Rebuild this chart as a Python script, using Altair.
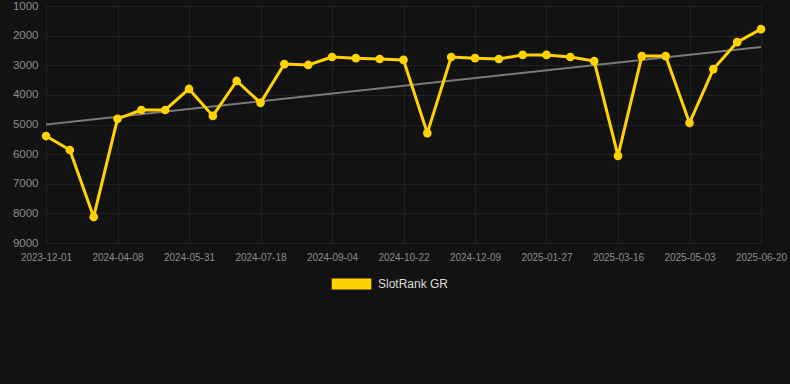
import altair as alt
import pandas as pd

# ---- data ----
ranks = [5390, 5860, 8120, 4810, 4510, 4510, 3800, 4710, 3530, 4270,
         2960, 2990, 2720, 2760, 2790, 2820, 5290, 2720, 2760, 2790,
         2650, 2650, 2720, 2860, 6060, 2690, 2690, 4950, 3130, 2220, 1780]
tick_labels = ["2023-12-01", "2024-04-08", "2024-05-31", "2024-07-18",
               "2024-09-04", "2024-10-22", "2024-12-09", "2025-01-27",
               "2025-03-16", "2025-05-03", "2025-06-20"]
series_name = "SlotRank GR"
y_ticks = [1000, 2000, 3000, 4000, 5000, 6000, 7000, 8000, 9000]

df = pd.DataFrame({
    "idx": list(range(len(ranks))),
    "rank": ranks,
    "series": [series_name] * len(ranks),
})

tick_positions = [i * 3 for i in range(len(tick_labels))]
label_arr = "[" + ",".join("'%s'" % t for t in tick_labels) + "]"

BG = "#121212"
GRID = "#222222"
LABEL = "#8c8c8c"
GOLD = "#FFD200"

x_enc = alt.X("idx:Q",
              scale=alt.Scale(domain=[0, len(ranks) - 1], nice=False, zero=False),
              axis=alt.Axis(values=tick_positions,
                            labelExpr=label_arr + "[round(datum.value/3)]",
                            title=None, grid=True, gridColor=GRID,
                            domain=False, ticks=False, labelOverlap=False,
                            labelFlush=False,
                            labelColor=LABEL, labelFontSize=10, labelPadding=9,
                            labelFont="Liberation Sans"))
y_enc = alt.Y("rank:Q",
              scale=alt.Scale(domain=[1000, 9000], reverse=True, nice=False, zero=False),
              axis=alt.Axis(values=y_ticks, title=None, grid=True, gridColor=GRID,
                            domain=False, ticks=False, labelColor=LABEL,
                            format="d", labelFlush=False, labelOverlap=False,
                            labelFontSize=11.5, labelPadding=8,
                            labelFont="Liberation Sans"))

base = alt.Chart(df)

trend = base.transform_regression("idx", "rank", method="linear").mark_line(
    color="#7a7a7a", strokeWidth=2
).encode(x=x_enc, y=y_enc)

legend_def = alt.Legend(title=None, orient="none",
                        legendX=294.5, legendY=267,
                        symbolType="M-1.8,-0.5H1.8V0.5H-1.8Z",
                        symbolSize=484, symbolStrokeWidth=0,
                        symbolFillColor=GOLD, symbolOpacity=1,
                        labelColor="#dddddd", labelFontSize=12,
                        labelFont="Liberation Sans",
                        labelOffset=15.5, padding=0)
color_enc = alt.Color("series:N", scale=alt.Scale(domain=[series_name], range=[GOLD]),
                      legend=legend_def)

line = base.mark_line(strokeWidth=3).encode(x=x_enc, y=y_enc, color=color_enc)
points = base.mark_circle(size=75, opacity=1).encode(x=x_enc, y=y_enc, color=color_enc)

chart = alt.layer(trend, line, points).properties(
    width=715, height=237,
    background=BG,
    padding={"left": 46, "top": 6, "right": 29, "bottom": 141},
    autosize=alt.AutoSizeParams(type="none"),
).configure_view(stroke=None)

chart.save("out.html", embed_options={"renderer": "svg", "actions": False})
